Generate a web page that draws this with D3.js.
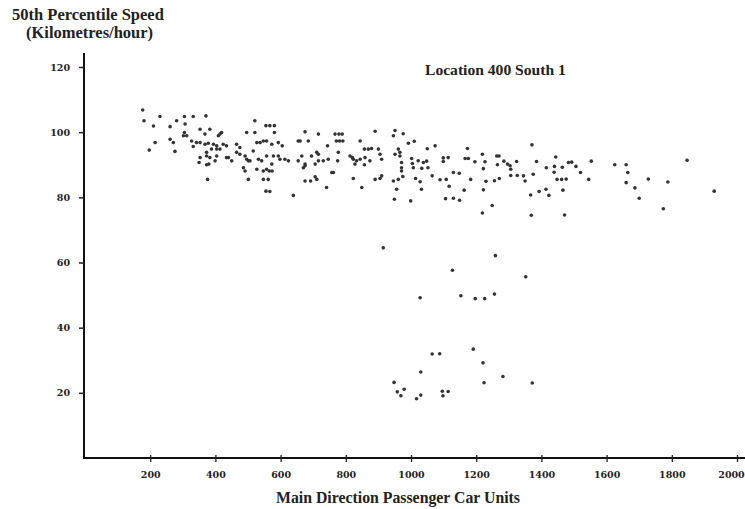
<!DOCTYPE html>
<html>
<head>
<meta charset="utf-8">
<script src="https://cdn.jsdelivr.net/npm/d3@7"></script>
<style>
  body { margin: 0; background: #fff; }
  .lbl { font-family: "Liberation Serif", "DejaVu Serif", serif; font-weight: bold; fill: #222; }
  .tick text { font-family: "DejaVu Serif", serif; font-weight: bold; font-size: 9.5px; fill: #222; }
</style>
</head>
<body>
<div id="chart"></div>
<script>
// tick values
const xTicks = [200, 400, 600, 800, 1000, 1200, 1400, 1600, 1800, 2000];
const yTicks = [20, 40, 60, 80, 100, 120];

// free flow, under 600 pcu
const pcuA = [177,181,197,210,215,230,261,261,271,276,
  281,305,332,371,307,305,312,302,353,383,
  368,327,342,353,332,368,378,409,414,419,
  394,404,424,434,373,373,388,404,414,383,
  353,380,373,399,376,434,440,465,475,465,
  475,491,496,501,506,496,521,521,516,527,
  537,547,532,542,527,486,491,501,547,557,
  547,555,350,450,404,555,567,581,581,557,
  573,593,593,578,557,598,573,565,574,562,
  567];
const speedA = [106.8,103.5,94.5,101.9,96.8,104.8,101.7,97.8,96.8,94.1,
  103.5,104.8,104.8,105,102.5,99.9,98.9,98.9,100.9,100.9,
  99.4,97.3,96.8,96.8,95.6,96.3,96.6,98.9,99.4,99.9,
  96.3,95.8,96.3,95.8,93.8,92.7,94.8,94.8,94.8,92.2,
  92.2,90.2,90,91.2,85.5,92.2,92.2,96.3,95.3,93.8,
  93.2,92.7,91.7,91.2,91.2,99.9,99.9,103.5,94.2,96.8,
  96.8,97.3,91.7,91.2,88.6,89.1,88.1,85.5,88.1,88.6,
  85.5,81.9,90.7,91.2,92.7,102,102,102,99.9,97.3,
  96.3,96.8,92.7,92.7,92.7,91.7,90.2,88.1,88.1,85.5,
  81.8];

// 600 - 1000 pcu
const pcuB = [605,613,624,654,660,675,685,716,744,711,
  716,716,731,746,665,654,675,670,695,706,
  711,706,675,692,762,757,767,779,789,771,
  781,791,777,775,813,820,823,833,844,844,
  828,857,869,879,859,874,890,900,905,910,
  857,951,946,951,961,966,971,971,890,905,
  910,823,849,741,639,946,961,956,949,976,
  992,966,971,975,999,675];
const speedB = [95.8,91.7,91.2,97.3,97.3,100.1,97.3,99.4,95.8,93.8,
  93.2,91.2,91.2,91.7,92.7,91.2,90.2,89.1,92.7,90.2,
  85.5,86.3,85,85,87.6,87.6,99.4,99.4,99.4,97.3,
  97.3,97.3,93.8,91.2,92.7,92.2,91.7,91.2,91.7,97.3,
  90.2,94.8,94.8,95,92.2,91.2,100.3,94.8,93.2,91.7,
  90,100.5,98.9,93.2,94.8,92.7,90.7,89.1,85.5,85.8,
  86.6,85.8,83,83,80.6,85,85.5,82.5,79.4,99.5,
  96.6,93.8,88.1,86.4,78.9,89.7];

// 1000 - 1400 pcu
const pcuC = [1010,1002,1022,1038,1048,1004,1007,1033,1052,1014,
  1028,1065,1032,1089,1108,1130,1148,1117,1163,1183,
  1106,1130,1149,1050,1074,1099,1099,1114,1166,1176,
  1173,1196,1219,1227,1222,1230,1222,1263,1270,1265,
  1256,1271,1285,1296,1304,1306,1324,1306,1326,1345,
  1350,1371,1385,1375,1367,1393,1369,1219,1249];
const speedC = [97.2,91.9,91.2,90.7,91.1,90.4,89.1,88.9,89.1,85.8,
  84.8,86.6,82.5,85.4,85.5,87.6,87.4,83.4,82.2,85.5,
  79.6,79.7,79.1,94.9,95.8,92.1,91,92.2,91.9,91.9,
  95,90.9,93.2,90.9,88.8,84.9,82.3,92.7,92.7,90,
  85.1,85.8,91.1,90.2,89.7,88.6,91,86.7,86.7,86.6,
  85,96.1,91,87.1,80.7,81.8,74.5,75.2,77.5];

// over 1400 pcu
const pcuD = [1444,1415,1440,1464,1483,1493,1506,1553,1439,1520,
  1448,1462,1476,1545,1414,1466,1423,1471,1625,1660,
  1665,1728,1660,1788,1687,1700,1847,1930,1774];
const speedD = [92.4,89.1,89.5,89.2,90.7,90.8,89.5,91.1,87.7,87.6,
  85.5,85.5,85.6,85.5,82.5,82.2,80.6,74.6,90,90,
  87.6,85.6,84.5,84.7,82.9,79.7,91.4,81.9,76.5];

// congested (breakdown) observations
const pcuJam = [915,1259,1127,1352,1028,1153,1197,1226,1256,1065,
  1088,1191,1221,1030,1282,948,1224,1372,958,979,
  969,1017,1030,1096,1098,1114];
const speedJam = [64.5,62.1,57.6,55.6,49.2,49.8,48.9,48.9,50.3,31.9,
  32,33.4,29.2,26.4,25,23.2,23.1,23,20.3,21.1,
  19.1,18.2,19.3,20.5,19.1,20.4];

const width = 745, height = 509;

const svg = d3.select("#chart")
  .append("svg")
  .attr("width", width)
  .attr("height", height);

const data = [].concat(
  d3.zip(pcuA, speedA), d3.zip(pcuB, speedB),
  d3.zip(pcuC, speedC), d3.zip(pcuD, speedD),
  d3.zip(pcuJam, speedJam));

const x = d3.scaleLinear().domain([0, 2000]).range([85, 737]);
const y = d3.scaleLinear().domain([0, 120]).range([458, 67]);

// axis lines
svg.append("line")
  .attr("x1", x(0) - 1).attr("x2", x(0) - 1)
  .attr("y1", 53).attr("y2", y(0) + 1)
  .attr("stroke", "#111").attr("stroke-width", 2);
svg.append("line")
  .attr("x1", x(0) - 1).attr("x2", width)
  .attr("y1", y(0)).attr("y2", y(0))
  .attr("stroke", "#111").attr("stroke-width", 2);

// y axis
const yAxis = svg.append("g")
  .attr("transform", `translate(${x(0) - 1},0)`)
  .call(d3.axisLeft(y).tickValues(yTicks).tickSize(5).tickPadding(9));
yAxis.select(".domain").remove();
yAxis.selectAll(".tick line").attr("stroke", "#222").attr("stroke-width", 1.5);

// x axis
const xAxis = svg.append("g")
  .attr("transform", `translate(0,${y(0) - 3})`)
  .call(d3.axisBottom(x).tickValues(xTicks).tickFormat(d3.format("d"))
    .tickSize(7).tickPadding(9));
xAxis.select(".domain").remove();
xAxis.selectAll(".tick line").attr("stroke", "#222").attr("stroke-width", 1.3);
// last label sits a little left, as on the original
xAxis.selectAll(".tick text").filter(d => d === 2000).attr("dx", -6);

// points
svg.append("g")
  .selectAll("circle")
  .data(data)
  .enter()
  .append("circle")
    .attr("cx", d => x(d[0]))
    .attr("cy", d => y(d[1]))
    .attr("r", 1.8)
    .attr("fill", "#333");

// labels
svg.append("text").attr("class", "lbl")
  .attr("x", 12).attr("y", 20).attr("font-size", 16.5)
  .text("50th Percentile Speed");
svg.append("text").attr("class", "lbl")
  .attr("x", 26).attr("y", 38).attr("font-size", 16.5)
  .text("(Kilometres/hour)");
svg.append("text").attr("class", "lbl")
  .attr("x", 425).attr("y", 75).attr("font-size", 15.6)
  .text("Location 400 South 1");
svg.append("text").attr("class", "lbl")
  .attr("x", 398).attr("y", 503).attr("font-size", 15.8)
  .attr("text-anchor", "middle")
  .text("Main Direction Passenger Car Units");
</script>
</body>
</html>
